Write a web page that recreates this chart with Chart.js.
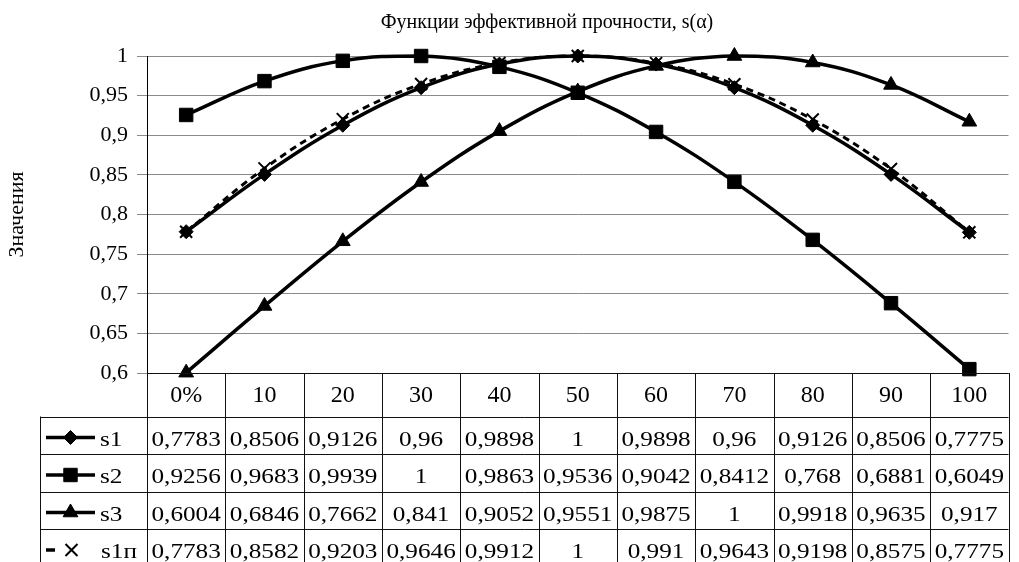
<!DOCTYPE html>
<html><head><meta charset="utf-8">
<script src="https://cdn.jsdelivr.net/npm/chart.js@4/dist/chart.umd.min.js"></script>
<style>html,body{margin:0;padding:0;background:#fff;overflow:hidden}#wrap{width:1019px;height:562px;position:relative}</style>
</head><body><div id="wrap"><canvas id="c" width="1019" height="562"></canvas></div>
<script>
const categories = ['0%','10','20','30','40','50','60','70','80','90','100'];
const s1  = [0.7783,0.8506,0.9126,0.96,0.9898,1,0.9898,0.96,0.9126,0.8506,0.7775];
const s2  = [0.9256,0.9683,0.9939,1,0.9863,0.9536,0.9042,0.8412,0.768,0.6881,0.6049];
const s3  = [0.6004,0.6846,0.7662,0.841,0.9052,0.9551,0.9875,1,0.9918,0.9635,0.917];
const s1p = [0.7783,0.8582,0.9203,0.9646,0.9912,1,0.991,0.9643,0.9198,0.8575,0.7775];
const seriesNames = ['s1','s2','s3','s1п'];
const chartTitle = 'Функции эффективной прочности, s(α)';
const yTitle = 'Значения';

const FONT = '"Liberation Serif","Times New Roman",serif';
const fmt = v => String(Number(v.toFixed(4))).replace('.', ',');

function mk(label, data, style, radius, extra) {
  return Object.assign({
    label, data, borderColor:'#000', backgroundColor:'#000', borderWidth:3.5,
    pointStyle:style, pointRadius:radius, pointHoverRadius:radius,
    pointBorderWidth:1, pointBackgroundColor:'#000', pointBorderColor:'#000',
    tension:0.4, clip:false, fill:false
  }, extra || {});
}
const datasets = [
  mk(seriesNames[0], s1, 'rectRot', 7),
  mk(seriesNames[1], s2, 'rect', 9.5),
  mk(seriesNames[2], s3, 'triangle', 8.5),
  mk(seriesNames[3], s1p, 'crossRot', 8.5, {borderDash:[7,5], borderWidth:3, pointBorderWidth:2, order:-1})
];
const samples = [
  {style:'rectRot', r:7, dash:false},
  {style:'rect', r:9.5, dash:false},
  {style:'triangle', r:8.5, dash:false},
  {style:'crossRot', r:8.5, dash:true}
];
const tableValues = [s1, s2, s3, s1p];

function stretched(ctx, text, x, y, sx, align) {
  ctx.save();
  ctx.translate(x, y);
  ctx.scale(sx, 1);
  ctx.textAlign = align;
  ctx.fillText(text, 0, 0);
  ctx.restore();
}

const tablePlugin = {
  id: 'dataTable',
  afterDraw(chart) {
    const ctx = chart.ctx, xs = chart.scales.x, a = chart.chartArea;
    const n = categories.length, cw = (a.right - a.left) / n;
    const headTop = a.bottom, headBot = headTop + 43.5, rowH = 37.5, legL = 40;
    const H = chart.height;
    const cr = v => Math.round(v) + 0.5;
    ctx.save();
    ctx.fillStyle = '#000';
    ctx.font = '20px ' + FONT;
    ctx.textBaseline = 'alphabetic';
    ctx.textAlign = 'center';
    ctx.fillText(chartTitle, 547, 28);
    ctx.strokeStyle = '#111';
    ctx.lineWidth = 1;
    ctx.beginPath();
    ctx.moveTo(a.left, cr(a.bottom)); ctx.lineTo(a.right, cr(a.bottom));
    for (let i = 0; i <= n; i++) {
      const x = cr(xs.getPixelForValue(i) - cw / 2);
      if (x > chart.width) continue;
      ctx.moveTo(x, headTop); ctx.lineTo(x, H);
    }
    ctx.moveTo(cr(legL), headBot); ctx.lineTo(cr(legL), H);
    for (let r = 0; r < 4; r++) {
      const y = cr(headBot + r * rowH);
      ctx.moveTo(legL, y); ctx.lineTo(a.right, y);
    }
    ctx.stroke();
    ctx.font = '24px ' + FONT;
    ctx.textAlign = 'center';
    categories.forEach((c, i) => ctx.fillText(c, xs.getPixelForValue(i), headTop + 29));
    for (let r = 0; r < 4; r++) {
      const top = headBot + r * rowH;
      const base = top + 29.3;
      const ly = top + 21;
      const smp = samples[r];
      ctx.save();
      ctx.strokeStyle = '#000'; ctx.fillStyle = '#000';
      ctx.lineWidth = 3.5;
      ctx.beginPath();
      if (smp.dash) { ctx.moveTo(46, ly); ctx.lineTo(55, ly); }
      else { ctx.moveTo(46, ly); ctx.lineTo(95, ly); }
      ctx.stroke();
      ctx.lineWidth = smp.dash ? 2 : 1;
      Chart.helpers.drawPoint(ctx, {pointStyle: smp.style, radius: smp.r, rotation: 0, borderWidth: ctx.lineWidth}, smp.dash ? 71.5 : 70.5, ly);
      ctx.restore();
      ctx.font = '21px ' + FONT;
      ctx.fillStyle = '#000';
      stretched(ctx, seriesNames[r], smp.dash ? 101 : 100, base, 1.2, 'left');
      tableValues[r].forEach((v, i) => {
        stretched(ctx, fmt(v), xs.getPixelForValue(i), base, 1.2, 'center');
      });
    }
    ctx.restore();
  }
};

new Chart(document.getElementById('c'), {
  type: 'line',
  data: { labels: categories, datasets },
  options: {
    responsive: false, animation: false,
    layout: { padding: { top: 56, bottom: 189, left: 0, right: 0 } },
    plugins: { legend: { display: false }, tooltip: { enabled: false }, title: { display: false } },
    scales: {
      x: { type: 'category', offset: true, display: false },
      y: {
        min: 0.6, max: 1,
        afterFit(s) { s.width = 147; },
        ticks: { stepSize: 0.05, color: '#000', padding: 9, font: { family: FONT, size: 22 },
                 callback: v => fmt(v) },
        grid: { color: c => (c.tick && Math.abs(c.tick.value - 0.6) < 1e-6) ? '#000' : '#8a8a8a',
                tickColor: '#8a8a8a', tickLength: 10, lineWidth: 1 },
        border: { color: '#000', width: 1 },
        title: { display: true, text: yTitle, color: '#000', font: { family: FONT, size: 22 }, padding: { top: 4, bottom: 4 } }
      }
    }
  },
  plugins: [tablePlugin]
});
</script>
</body></html>
